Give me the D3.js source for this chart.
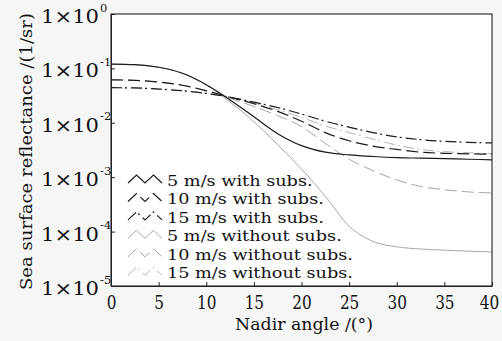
<!DOCTYPE html>
<html><head><meta charset="utf-8">
<script src="https://cdn.jsdelivr.net/npm/d3@7/dist/d3.min.js"></script>
<style>
body{margin:0;background:#f6f6f6;}
text{font-family:"DejaVu Serif",serif;fill:#111;}
</style>
</head><body>
<svg id="chart" width="502" height="341"></svg>
<script>
// Nadir angle (degrees)
const angles = [0, 2.5, 5, 7.5, 10, 12.5, 15, 17.5, 20, 22.5, 25, 27.5, 30, 32.5, 35, 37.5, 40];

// Sea surface reflectance (1/sr), with substrate contribution
const wind5With  = [0.120, 0.117, 0.105, 0.0813, 0.0501, 0.0263, 0.0129, 0.00631, 0.00380, 0.00288, 0.00257, 0.00240, 0.00229, 0.00224, 0.00219, 0.00214, 0.00209];
const wind10With = [0.0617, 0.0603, 0.0562, 0.0490, 0.0389, 0.0295, 0.0224, 0.0162, 0.0107, 0.00661, 0.00468, 0.00372, 0.00324, 0.00288, 0.00275, 0.00269, 0.00263];
const wind15With = [0.0442, 0.0437, 0.0417, 0.0389, 0.0347, 0.0295, 0.0240, 0.0191, 0.0145, 0.0107, 0.00832, 0.00661, 0.00550, 0.00490, 0.00457, 0.00437, 0.00427];
// without substrate contribution
const wind5Without  = [0.120, 0.117, 0.105, 0.0813, 0.0501, 0.0240, 0.01047, 0.00398, 0.00141, 0.000447, 0.000126, 0.0000661, 0.0000525, 0.0000479, 0.0000457, 0.0000437, 0.0000422];
const wind10Without = [0.0617, 0.0603, 0.0562, 0.0490, 0.0389, 0.0282, 0.0200, 0.0135, 0.00851, 0.00417, 0.00214, 0.00132, 0.000891, 0.000676, 0.000589, 0.000537, 0.000513];
const wind15Without = [0.0442, 0.0437, 0.0417, 0.0389, 0.0347, 0.0295, 0.0229, 0.0174, 0.0126, 0.00871, 0.00661, 0.00501, 0.00389, 0.00324, 0.00295, 0.00282, 0.00269];

const seriesLabels = ["5 m/s with subs.", "10 m/s with subs.", "15 m/s with subs.",
                      "5 m/s without subs.", "10 m/s without subs.", "15 m/s without subs."];
const xTicks = [0, 5, 10, 15, 20, 25, 30, 35, 40];
const yTickExponents = [0, -1, -2, -3, -4, -5];

const series = [
  {label: seriesLabels[0], values: wind5With,     color: "#1b1b1b", dash: null,        width: 1.2},
  {label: seriesLabels[1], values: wind10With,    color: "#1b1b1b", dash: "12,5",      width: 1.2},
  {label: seriesLabels[2], values: wind15With,    color: "#1b1b1b", dash: "11,3,2,4",  width: 1.2},
  {label: seriesLabels[3], values: wind5Without,  color: "#a6a6a6", dash: null,        width: 1.0},
  {label: seriesLabels[4], values: wind10Without, color: "#a6a6a6", dash: "12,5",      width: 1.0},
  {label: seriesLabels[5], values: wind15Without, color: "#b4b4b4", dash: "11,3,2,4",  width: 1.0}
];

const svg = d3.select("#chart");
const L = 111, R = 492, T = 14, B = 286;

// stretch or squeeze a text horizontally by a factor
function scaleWidth(sel, factor) {
  sel.each(function () {
    const w = this.getComputedTextLength();
    d3.select(this).attr("textLength", w * factor).attr("lengthAdjust", "spacingAndGlyphs");
  });
  return sel;
}

const x = d3.scaleLinear().domain([0, 40]).range([L, R]);
const y = d3.scaleLog().domain([1e-5, 1]).range([B, T]);

// plot area
svg.append("rect").attr("x", L).attr("y", T).attr("width", R - L).attr("height", B - T)
  .attr("fill", "#fff");

// curves
const line = d3.line().x((d, i) => x(angles[i])).y(d => y(d)).curve(d3.curveMonotoneX);
series.slice().reverse().forEach(s => {
  svg.append("path").datum(s.values)
    .attr("d", line)
    .attr("fill", "none")
    .attr("stroke", s.color)
    .attr("stroke-width", s.width)
    .attr("stroke-dasharray", s.dash);
});

// frame
svg.append("rect").attr("x", L).attr("y", T).attr("width", R - L).attr("height", B - T)
  .attr("fill", "none").attr("stroke", "#222").attr("stroke-width", 1.1);

// x axis
const xAxis = svg.append("g").attr("transform", `translate(0,${B})`)
  .call(d3.axisBottom(x).tickValues(xTicks).tickSizeInner(-4).tickSizeOuter(0));
xAxis.select(".domain").attr("stroke", "#222");
xAxis.selectAll(".tick line").attr("stroke", "#222");
const xLabels = xAxis.selectAll(".tick text")
  .attr("y", 23).attr("dy", null)
  .attr("x", d => d === 40 ? -3 : 0)
  .style("font-family", '"DejaVu Serif", serif')
  .style("font-size", "18px").attr("fill", "#111");
scaleWidth(xLabels, 0.85);

// y axis
const yAxis = svg.append("g").attr("transform", `translate(${L},0)`)
  .call(d3.axisLeft(y).tickValues(yTickExponents.map(e => Math.pow(10, e)))
    .tickSizeInner(-4).tickSizeOuter(0).tickFormat(() => ""));
yAxis.select(".domain").attr("stroke", "#222");
yAxis.selectAll(".tick line").attr("stroke", "#222");

yTickExponents.forEach(e => {
  const ty = y(Math.pow(10, e));
  svg.append("text")
    .attr("x", 41).attr("y", ty + 9)
    .attr("textLength", 58).attr("lengthAdjust", "spacingAndGlyphs")
    .style("font-size", "18.5px")
    .text("1×10");
  svg.append("text")
    .attr("x", 100).attr("y", ty - 2.5)
    .style("font-size", "11.5px")
    .text(e === 0 ? "0" : "-" + Math.abs(e));
});

// axis titles
svg.append("text").attr("x", 304).attr("y", 330)
  .attr("text-anchor", "middle").style("font-size", "17.5px")
  .attr("textLength", 138).attr("lengthAdjust", "spacingAndGlyphs")
  .text("Nadir angle /(°)");
svg.append("text").attr("transform", `translate(32,151.5) rotate(-90)`)
  .attr("text-anchor", "middle").style("font-size", "17.5px")
  .attr("textLength", 277).attr("lengthAdjust", "spacingAndGlyphs")
  .text("Sea surface reflectance /(1/sr)");

// legend
const legendBase = 186, legendStep = 18.45;
const zig = [[0, 4], [8.5, -4], [17, 4], [25.5, -4], [34, 4]];
const legendTexts = [];
series.forEach((s, i) => {
  const by = legendBase + i * legendStep;
  svg.append("path")
    .attr("d", d3.line()(zig.map(p => [128 + p[0], by - 7 + p[1]])))
    .attr("fill", "none")
    .attr("stroke", s.color)
    .attr("stroke-width", s.width)
    .attr("stroke-dasharray", s.dash);
  legendTexts.push(svg.append("text").attr("x", 167).attr("y", by)
    .style("font-size", "15.7px").text(s.label));
});
// longest label spans 167 → 353
const widest = legendTexts[5].node().getComputedTextLength();
legendTexts.forEach(t => scaleWidth(t, 186 / widest));
</script>
</body></html>
